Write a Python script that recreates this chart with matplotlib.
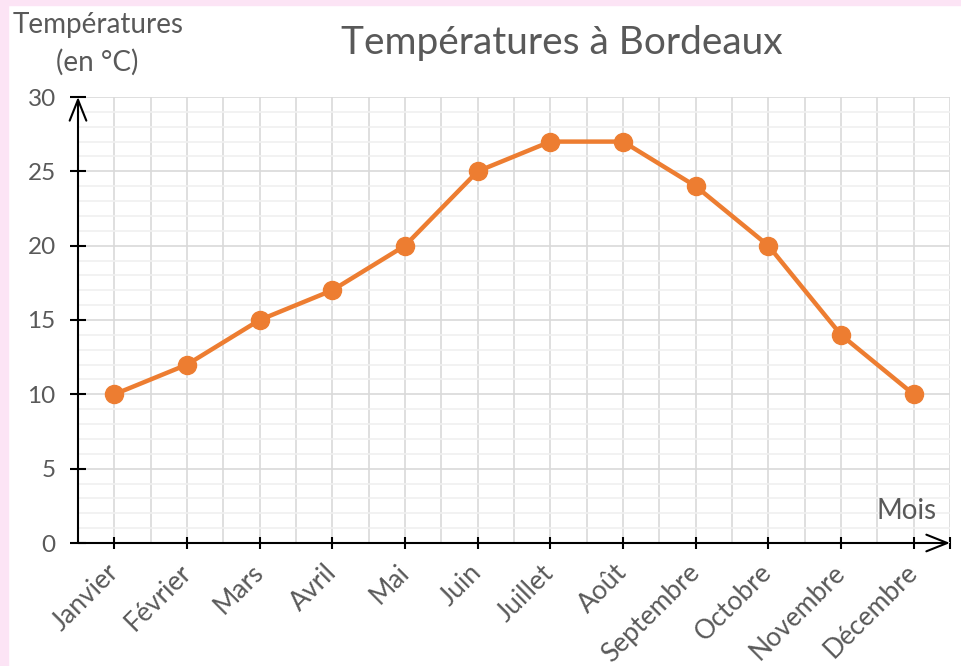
import matplotlib
matplotlib.use("Agg")
import matplotlib.pyplot as plt
from matplotlib.ticker import MultipleLocator

mois = ["Janvier", "Février", "Mars", "Avril", "Mai", "Juin", "Juillet",
        "Août", "Septembre", "Octobre", "Novembre", "Décembre"]
temperatures = [10, 12, 15, 17, 20, 25, 27, 27, 24, 20, 14, 10]

plt.rcParams['font.family'] = ['Lato', 'DejaVu Sans']
gris = '#595959'
orange = '#ED7D31'

fig = plt.figure(figsize=(9.62, 6.66), dpi=100)
fig.patch.set_facecolor('white')
# bande rose en haut et a gauche
fig.patches.append(plt.Rectangle((0, 0), 8 / 962, 1, transform=fig.transFigure,
                                 color='#FCE4F5', zorder=0))
fig.patches.append(plt.Rectangle((0, 1 - 5 / 666), 1, 5 / 666, transform=fig.transFigure,
                                 color='#FCE4F5', zorder=0))

ax = fig.add_axes([78 / 962, 1 - 543 / 666, (950 - 78) / 962, (543 - 97) / 666])
x = list(range(len(mois)))
ax.plot(x, temperatures, color=orange, lw=3.2, marker='o', ms=13, zorder=5, clip_on=False)

ax.set_xlim(-0.5, 11.5)
ax.set_ylim(0, 30)

# quadrillage
ax.yaxis.set_major_locator(MultipleLocator(5))
ax.yaxis.set_minor_locator(MultipleLocator(1))
ax.grid(which='major', axis='y', color='#D9D9D9', lw=1.2)
ax.grid(which='minor', axis='y', color='#F0F0F0', lw=1.2)
for xv in [i * 0.5 - 0.5 for i in range(25)]:
    ax.axvline(xv, color='#D9D9D9', lw=1.2, zorder=0)
ax.set_axisbelow(True)

for s in ax.spines.values():
    s.set_visible(False)

ax.set_xticks(x + [11.5])
ax.set_xticklabels(mois + [''], rotation=45, ha='right', va='center',
                   rotation_mode='anchor', fontsize=19, color=gris)
ax.tick_params(axis='x', which='major', direction='inout', length=9, width=1.5,
               color='black', pad=14)
ax.tick_params(axis='y', which='major', direction='inout', length=12, width=1.5,
               color='black', pad=10, labelsize=17.5, labelcolor=gris)
ax.tick_params(axis='y', which='minor', length=0)

# axes avec fleches
style = '->,head_length=1.5,head_width=0.6'
ax.annotate('', xy=(-0.5, 30), xytext=(-0.5, 0), xycoords='data',
            arrowprops=dict(arrowstyle=style, lw=1.5, color='black',
                            shrinkA=0, shrinkB=0), annotation_clip=False)
ax.annotate('', xy=(11.5, 0), xytext=(-0.5, 0), xycoords='data',
            arrowprops=dict(arrowstyle=style, lw=1.5, color='black',
                            shrinkA=0, shrinkB=0), annotation_clip=False)

fig.text(562 / 962, 1 - 43 / 666, "Températures à Bordeaux", ha='center', va='center',
         fontsize=28, color=gris)
fig.text(98 / 962, 1 - 25 / 666, "Températures", ha='center', va='center',
         fontsize=20, color=gris)
fig.text(97 / 962, 1 - 62 / 666, "(en °C)", ha='center', va='center',
         fontsize=20, color=gris)
fig.text(907 / 962, 1 - 511 / 666, "Mois", ha='center', va='center',
         fontsize=20, color=gris)

fig.savefig("out.png", dpi=100)
